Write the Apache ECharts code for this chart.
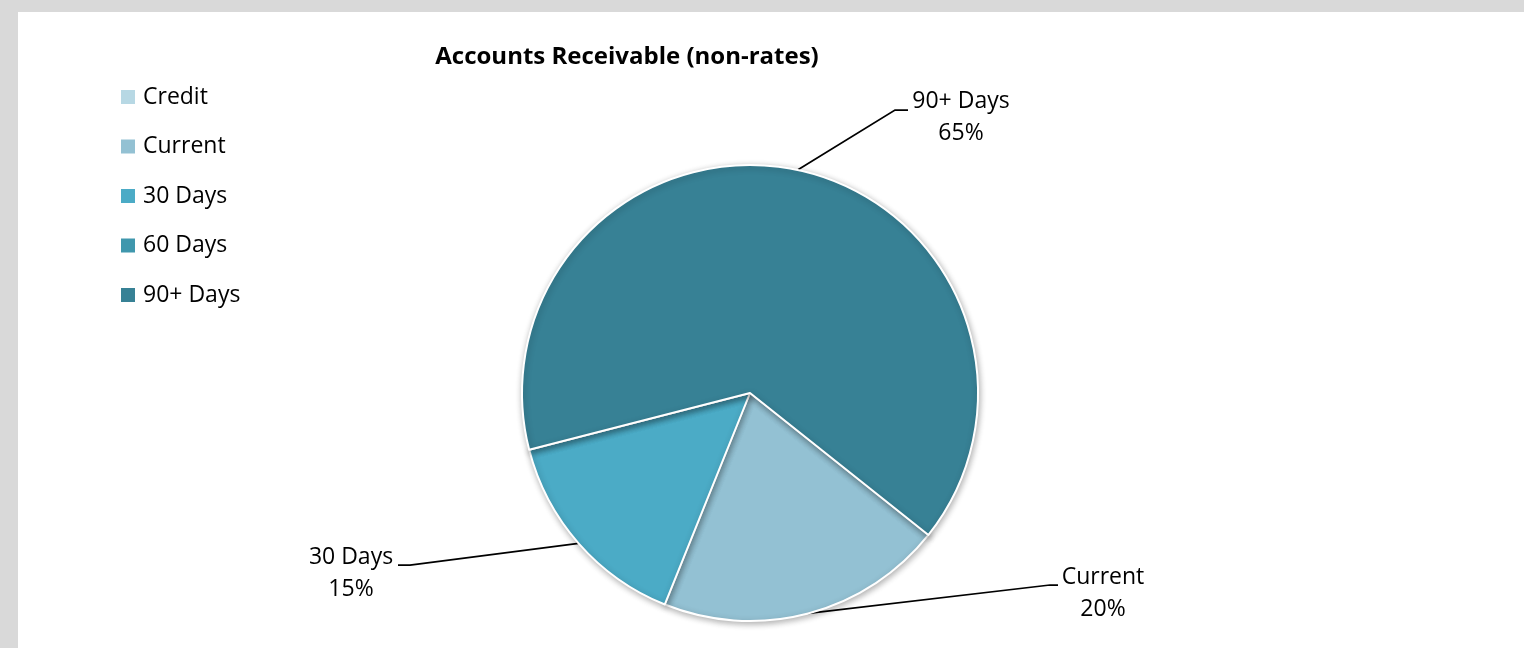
<!DOCTYPE html>
<html>
<head>
<meta charset="utf-8">
<script src="https://cdn.jsdelivr.net/npm/echarts@6/dist/echarts.min.js"></script>
<style>
  html, body { margin: 0; padding: 0; background: #d9d9d9; }
  #main { width: 1524px; height: 648px; }
</style>
</head>
<body>
<div id="main"></div>
<script>
// 数据
var categories = ['Credit', 'Current', '30 Days', '60 Days', '90+ Days'];
var shares = [0, 20.4, 14.9, 0, 64.7];
var colors = ['#b7d8e4', '#93c1d3', '#4babc6', '#3f97ad', '#378195'];

// 标签位置 (像素)
var labelSpots = {
  'Current':  { x: 1103, y: 593, ex: 1050, ey: 585, tx: 1058 },
  '30 Days':  { x: 351,  y: 573, ex: 410,  ey: 565, tx: 398 },
  '90+ Days': { x: 961,  y: 117, ex: 895,  ey: 110, tx: 908 }
};

var font = 'Open Sans';
var myChart = echarts.init(document.getElementById('main'));

var pieData = categories.map(function (name, i) {
  var visible = shares[i] > 0;
  return {
    name: name,
    value: shares[i],
    itemStyle: { color: colors[i] },
    label: { show: visible },
    labelLine: { show: visible }
  };
});

myChart.setOption({
  animation: false,
  backgroundColor: '#d9d9d9',
  graphic: [{
    type: 'rect',
    z: -10,
    shape: { x: 18, y: 12, width: 1506, height: 636 },
    style: { fill: '#ffffff' }
  }],
  title: {
    text: 'Accounts Receivable (non-rates)',
    left: 622,
    top: 40,
    textAlign: 'center',
    textStyle: { fontFamily: font, fontSize: 24, fontWeight: 'bold', color: '#000' }
  },
  legend: {
    orient: 'vertical',
    left: 121,
    top: 85,
    padding: 0,
    icon: 'rect',
    itemWidth: 14,
    itemHeight: 14,
    itemGap: 25.5,
    itemStyle: { borderWidth: 0, shadowBlur: 0 },
    data: categories,
    textStyle: { fontFamily: font, fontSize: 23, color: '#000', lineHeight: 24, padding: [0, 0, 0, 3] }
  },
  series: [{
    type: 'pie',
    center: [750, 393],
    radius: 228,
    startAngle: -38.5,
    clockwise: true,
    avoidLabelOverlap: false,
    percentPrecision: 0,
    emphasis: { disabled: true },
    itemStyle: {
      borderColor: '#fff',
      borderWidth: 2,
      shadowBlur: 6,
      shadowOffsetX: 1,
      shadowOffsetY: 2,
      shadowColor: 'rgba(0,0,0,0.3)'
    },
    label: {
      position: 'outside',
      formatter: '{b}\n{d}%',
      fontFamily: font,
      fontSize: 23,
      lineHeight: 32,
      color: '#000',
      align: 'center'
    },
    labelLine: {
      show: true,
      length: 20,
      length2: 20,
      lineStyle: { color: '#000', width: 1.75 }
    },
    labelLayout: function (p) {
      var spot = labelSpots[categories[p.dataIndex]];
      if (!spot || !p.labelLinePoints) return {};
      return {
        x: spot.x,
        y: spot.y,
        align: 'center',
        verticalAlign: 'middle',
        labelLinePoints: [p.labelLinePoints[0], [spot.ex, spot.ey], [spot.tx, spot.ey]]
      };
    },
    data: pieData
  }]
});
</script>
</body>
</html>
